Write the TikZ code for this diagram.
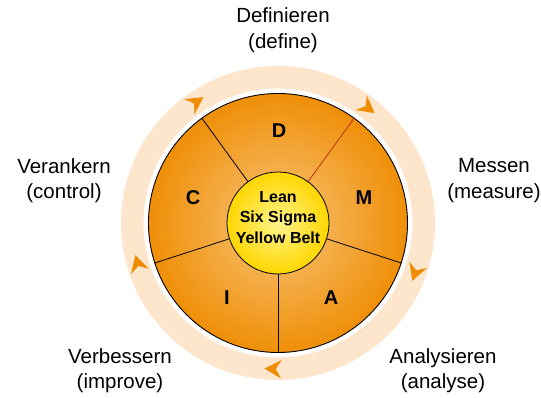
\documentclass[tikz,border=0pt]{standalone}
\usepackage{fontspec}
\setmainfont{Liberation Sans}
\definecolor{ringc}{RGB}{253,230,204}
\definecolor{arrc}{RGB}{240,140,0}
\definecolor{orgout}{RGB}{239,143,8}
\definecolor{orgin}{RGB}{248,196,120}
\definecolor{yelout}{RGB}{255,214,0}
\definecolor{yelin}{RGB}{255,244,140}
\definecolor{redline}{RGB}{190,50,10}
\begin{document}
\begin{tikzpicture}[x=1pt,y=1pt,
  lbl/.style={align=center, font=\fontsize{20.5}{25.5}\selectfont, inner sep=0},
  letter/.style={font=\fontsize{20}{20}\selectfont\bfseries, inner sep=0},
  coretxt/.style={align=center, font=\fontsize{16}{20.5}\selectfont\bfseries, inner sep=0},
  divider/.style={line width=0.8pt, black},
  cyclearrow/.style={fill=arrc},
  ringstyle/.style={draw=ringc, line width=22.5pt}]
\useasboundingbox (0,0) rectangle (541,398);
\coordinate (c) at (278,175);
% ring
\draw[ringstyle] (c) circle (145.75);
% arrowheads on the ring (clockwise)
\foreach \a in {52,-20,-92,-164,-236} {
  \fill[cyclearrow, shift={(c)}, rotate=\a] (146,-8.5) -- (155.2,8.5) -- (146,2.8) -- (136.8,8.5) -- cycle;
}
% disc
\node[circle, draw=black, line width=0.9pt, minimum size=259pt, inner sep=0pt,
      inner color=orgin, outer color=orgout] (disc) at (c) {};
% core
\node[circle, draw=black, line width=0.8pt, minimum size=102pt, inner sep=0pt,
      inner color=yelin, outer color=yelout] (core) at (c) {};
\node[coretxt] (coretext) at (278,180.5) {Lean\\Six Sigma\\Yellow Belt};
% dividers
\draw[divider, draw=redline] (core.54) -- (disc.54);
\foreach \a in {126,198,270,342} \draw[divider] (core.\a) -- (disc.\a);
% letters
\node[letter] (D) at (279,267) {D};
\node[letter] (M) at (364,200) {M};
\node[letter] (A) at (331,100) {A};
\node[letter] (I) at (227,100) {I};
\node[letter] (C) at (193,200) {C};
% outer labels
\node[lbl] (lD) at (283,368) {Definieren\\(define)};
\node[lbl] (lM) at (494,217.5) {Messen\\(measure)};
\node[lbl] (lC) at (64,217.5) {Verankern\\(control)};
\node[lbl] (lI) at (120,27.5) {Verbessern\\(improve)};
\node[lbl] (lA) at (443,27.5) {Analysieren\\(analyse)};
\end{tikzpicture}
\end{document}
